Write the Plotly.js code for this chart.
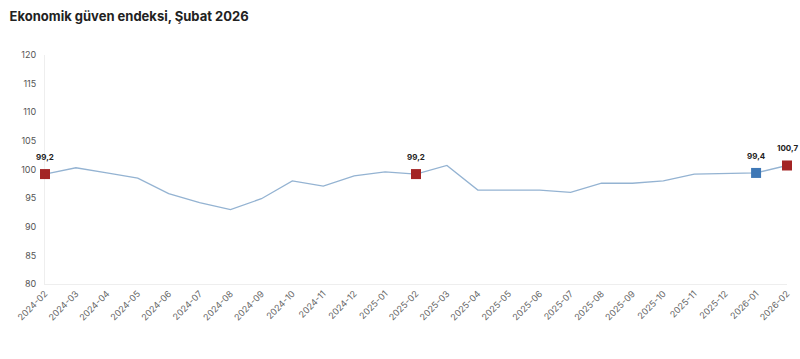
<!DOCTYPE html>
<html><head><meta charset="utf-8">
<script src="https://cdn.plot.ly/plotly-3.0.1.min.js"></script>
<style>html,body{margin:0;padding:0;background:#fff;}#c{width:800px;height:359px;}</style>
</head><body><div id="c"></div>
<script>
const months = ["2024-02","2024-03","2024-04","2024-05","2024-06","2024-07","2024-08","2024-09","2024-10","2024-11","2024-12","2025-01","2025-02","2025-03","2025-04","2025-05","2025-06","2025-07","2025-08","2025-09","2025-10","2025-11","2025-12","2026-01","2026-02"];
const values = [99.2,100.3,99.4,98.5,95.8,94.2,93.0,94.9,98.0,97.1,98.9,99.6,99.2,100.7,96.4,96.4,96.4,96.0,97.6,97.6,98.0,99.2,99.3,99.4,100.7];
const redMonths = ["2024-02","2025-02","2026-02"];
const blueMonths = ["2026-01"];
const fmt = v => v.toFixed(1).replace('.', ',');
const pick = list => list.map(m => values[months.indexOf(m)]);

const traces = [
  {x: months, y: values, type:'scatter', mode:'lines', line:{color:'#94b3d2', width:1.3}, hoverinfo:'skip', cliponaxis:false},
  {x: redMonths, y: pick(redMonths), type:'scatter', mode:'markers', marker:{symbol:'square', size:10, color:'#a32424'}, cliponaxis:false},
  {x: blueMonths, y: pick(blueMonths), type:'scatter', mode:'markers', marker:{symbol:'square', size:10, color:'#3f78b6'}, cliponaxis:false}
];
const labelMonths = redMonths.concat(blueMonths);
const annotations = labelMonths.map(m => ({
  x: m, y: values[months.indexOf(m)], text: fmt(values[months.indexOf(m)]),
  showarrow:false, yshift:17, font:{size:8, color:'#222', family:'Inter, Arial', weight:700}
}));
const layout = {
  width:800, height:359, showlegend:false,
  margin:{l:45, r:13, t:55, b:75},
  paper_bgcolor:'#fff', plot_bgcolor:'#fff',
  title:{text:'Ekonomik güven endeksi, Şubat 2026', x:0.012, xanchor:'left', y:0.955, yanchor:'middle',
         font:{family:'Inter, Arial', size:13, color:'#222', weight:700}},
  font:{family:'Inter, Arial', color:'#555'},
  annotations: annotations,
  xaxis:{type:'category', range:[0,24], tickangle:-45, showgrid:false, zeroline:false, layer:'below traces',
         showline:true, linecolor:'#eeeeee', linewidth:1, ticks:'', tickfont:{size:9, color:'#666'}},
  yaxis:{range:[80,120], dtick:5, showgrid:false, zeroline:false, showline:true, linecolor:'#eeeeee', linewidth:1,
         layer:'below traces', ticks:'', tickfont:{size:9, color:'#555'}, ticklabelstandoff:6}
};
Plotly.newPlot('c', traces, layout, {displayModeBar:false, staticPlot:true});
</script></body></html>
